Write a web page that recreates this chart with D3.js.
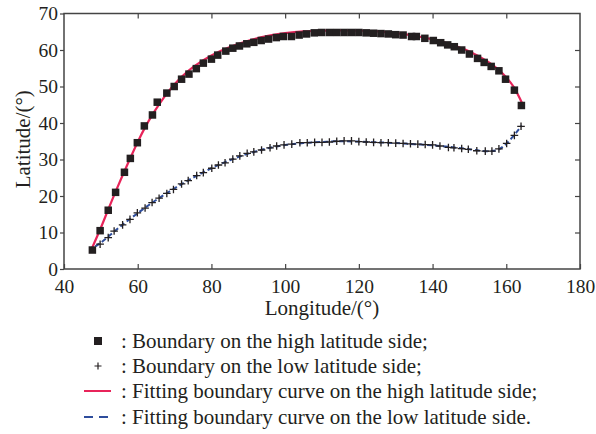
<!DOCTYPE html>
<html>
<head>
<meta charset="utf-8">
<script src="https://cdn.jsdelivr.net/npm/d3@7"></script>
<style>
  body { margin: 0; background: #fff; }
  text { font-family: "Liberation Serif", "Times New Roman", Times, "DejaVu Serif", serif; fill: #231f20; }
</style>
</head>
<body>
<div class="chart-container"></div>
<script>
// Boundary on the high latitude side (squares)
const highLon = [47.7, 49.8, 52.0, 54.0, 56.4, 58.0, 59.9, 61.8, 64.0, 65.3, 67.9, 69.9, 71.9, 73.9, 75.9, 77.8,
    80.0, 81.7, 83.9, 85.8, 87.6, 89.6, 91.5, 93.5, 95.5, 97.6, 99.5, 101.7, 103.8, 105.8, 107.9, 109.9,
    112.0, 114.0, 116.0, 118.0, 120.0, 122.0, 124.0, 126.0, 128.0, 130.0, 132.0, 134.3, 135.6, 137.9,
    140.2, 142.2, 144.1, 145.9, 147.9, 150.0, 152.2, 154.0, 155.9, 158.0, 159.8, 162.2, 164.1];
const highLat = [5.2, 10.5, 16.1, 21.0, 26.5, 30.3, 34.6, 39.2, 42.2, 45.7, 48.2, 50.0, 52.0, 53.4, 54.9, 56.4,
    57.5, 58.6, 59.7, 60.5, 61.1, 61.7, 62.1, 62.6, 63.0, 63.4, 63.7, 63.7, 64.1, 64.4, 64.7, 64.8,
    64.8, 64.8, 64.8, 64.8, 64.8, 64.7, 64.6, 64.5, 64.4, 64.2, 64.1, 63.7, 63.7, 63.2,
    62.6, 62.0, 61.4, 60.9, 60.0, 58.9, 57.7, 56.6, 55.5, 54.3, 52.0, 49.0, 44.8];

// Boundary on the low latitude side (crosses)
const lowLon = [49.8, 52.0, 53.6, 55.9, 57.9, 59.9, 62.0, 63.9, 65.8, 67.9, 69.7, 71.9, 73.7, 76.0, 77.8,
    80.1, 81.9, 83.7, 85.8, 87.7, 89.7, 91.5, 93.6, 95.9, 97.7, 99.7, 101.8, 104.0, 106.0, 108.0, 110.0,
    112.0, 114.0, 116.0, 118.0, 120.0, 122.0, 124.0, 126.0, 128.0, 130.0, 132.0, 134.0, 136.0, 138.0,
    140.0, 142.0, 144.3, 145.8, 147.9, 149.7, 152.0, 154.3, 156.1, 158.0, 160.1, 162.2, 164.0];
const lowLat = [6.8, 8.6, 10.4, 12.1, 13.6, 15.4, 16.7, 18.2, 19.4, 20.7, 21.8, 23.3, 24.2, 25.6, 26.4,
    27.6, 28.5, 29.1, 30.1, 31.0, 31.7, 32.1, 32.6, 33.2, 33.7, 34.0, 34.2, 34.6, 34.6, 34.7, 34.7,
    34.8, 35.0, 35.1, 35.1, 34.9, 34.8, 34.7, 34.6, 34.6, 34.5, 34.4, 34.3, 34.2, 34.1,
    34.0, 33.7, 33.3, 33.2, 33.0, 32.8, 32.4, 32.3, 32.3, 32.9, 34.4, 36.6, 39.1];

// Fitting curves
const highFitLon = [47.5, 50, 52, 54, 56, 58, 60, 62, 64, 66, 68, 70, 72, 75, 80, 85, 90, 95, 100, 105,
    110, 115, 120, 125, 130, 135, 140, 145, 150, 155, 158, 160, 162, 164.5];
const highFitLat = [5.5, 11.3, 16.3, 21.2, 25.9, 30.4, 34.8, 38.8, 42.3, 45.4, 48.2, 50.6, 52.7, 55.3,
    58.5, 60.8, 62.5, 63.8, 64.6, 65.1, 65.3, 65.4, 65.3, 65.1, 64.6, 63.9, 62.9, 61.5, 59.6, 56.8,
    54.5, 52.5, 49.9, 45.0];
const lowFitLon = [48.5, 50, 55, 60, 65, 70, 75, 80, 85, 90, 95, 100, 105, 110, 115, 120, 125, 130, 135,
    140, 145, 150, 153, 156, 158, 160, 162, 164.2];
const lowFitLat = [6.2, 7.2, 11.4, 15.3, 18.9, 22.1, 25.0, 27.6, 29.8, 31.6, 33.0, 34.0, 34.5, 34.8, 35.0,
    34.9, 34.7, 34.5, 34.2, 33.9, 33.4, 32.8, 32.4, 32.3, 32.8, 34.3, 36.5, 39.3];

const xTicks = [40, 60, 80, 100, 120, 140, 160, 180];
const yTicks = [0, 10, 20, 30, 40, 50, 60, 70];

const legendLabels = [
    ": Boundary on the high latitude side;",
    ": Boundary on the low latitude side;",
    ": Fitting boundary curve on the high latitude side;",
    ": Fitting boundary curve on the low latitude side."
];

function draw() {
    const width = 596;
    const height = 434;
    const marginTop = 13.5;
    const marginLeft = 64;
    const plotRight = 580;
    const plotBottom = 269;
    const serif = '"Liberation Serif", "Times New Roman", Times, "DejaVu Serif", serif';

    const red = '#e8245a';
    const blue = '#2e4d9c';
    const ink = '#231f20';
    const axisColor = '#444';

    const x = d3.scaleLinear().domain([40, 180]).range([marginLeft, plotRight]);
    const y = d3.scaleLinear().domain([0, 70]).range([plotBottom, marginTop]);

    const svg = d3.select('.chart-container').append('svg')
        .attr('width', width)
        .attr('height', height)
        .style('font-family', serif);

    // Frame
    svg.append('rect')
        .attr('x', marginLeft)
        .attr('y', marginTop)
        .attr('width', plotRight - marginLeft)
        .attr('height', plotBottom - marginTop)
        .attr('fill', 'none')
        .attr('stroke', axisColor)
        .attr('stroke-width', 1.5);

    const styleAxis = g => {
        g.attr('font-family', serif);
        g.select('.domain').remove();
        g.selectAll('.tick line').attr('stroke', axisColor).attr('stroke-width', 1.2);
        g.selectAll('.tick text')
            .style('font-family', serif)
            .style('font-size', '19.5px')
            .attr('fill', ink);
    };

    // Bottom and top ticks point inward, left ticks outward, right ticks inward
    svg.append('g')
        .attr('transform', `translate(0,${plotBottom})`)
        .call(d3.axisBottom(x).tickValues(xTicks).tickSize(-5).tickPadding(10).tickFormat(d3.format('d')))
        .call(styleAxis);

    svg.append('g')
        .attr('transform', `translate(${marginLeft},0)`)
        .call(d3.axisLeft(y).tickValues(yTicks).tickSize(4).tickPadding(2).tickFormat(d3.format('d')))
        .call(styleAxis);

    svg.append('g')
        .attr('transform', `translate(0,${marginTop})`)
        .call(d3.axisTop(x).tickValues(xTicks.slice(1, -1)).tickSize(-5).tickFormat(''))
        .call(styleAxis);

    svg.append('g')
        .attr('transform', `translate(${plotRight},0)`)
        .call(d3.axisRight(y).tickValues(yTicks.slice(1, -1)).tickSize(-5).tickFormat(''))
        .call(styleAxis);

    // Axis titles
    svg.append('text')
        .attr('x', (marginLeft + plotRight) / 2)
        .attr('y', 315)
        .attr('text-anchor', 'middle')
        .style('font-size', '21px')
        .text('Longitude/(°)');

    svg.append('text')
        .attr('transform', `translate(30,${(marginTop + plotBottom) / 2 - 2}) rotate(-90)`)
        .attr('text-anchor', 'middle')
        .style('font-size', '21px')
        .text('Latitude/(°)');

    const line = d3.line()
        .x(d => x(d[0]))
        .y(d => y(d[1]))
        .curve(d3.curveCatmullRom);

    // Fitting curves
    svg.append('path')
        .datum(highFitLon.map((v, i) => [v, highFitLat[i]]))
        .attr('d', line)
        .attr('fill', 'none')
        .attr('stroke', red)
        .attr('stroke-width', 2.2);

    svg.append('path')
        .datum(lowFitLon.map((v, i) => [v, lowFitLat[i]]))
        .attr('d', line)
        .attr('fill', 'none')
        .attr('stroke', blue)
        .attr('stroke-width', 2)
        .attr('stroke-dasharray', '5,3');

    // Squares
    const sq = 7.5;
    svg.append('g').selectAll('rect')
        .data(highLon.map((v, i) => [v, highLat[i]]))
        .enter()
        .append('rect')
        .attr('x', d => x(d[0]) - sq / 2)
        .attr('y', d => y(d[1]) - sq / 2)
        .attr('width', sq)
        .attr('height', sq)
        .attr('fill', ink);

    // Crosses
    const cr = 3.8;
    svg.append('g').selectAll('path')
        .data(lowLon.map((v, i) => [v, lowLat[i]]))
        .enter()
        .append('path')
        .attr('d', d => {
            const cx = x(d[0]), cy = y(d[1]);
            return `M${cx - cr},${cy}H${cx + cr}M${cx},${cy - cr}V${cy + cr}`;
        })
        .attr('stroke', ink)
        .attr('stroke-width', 1.3);

    // Legend
    const rowY = [341, 366, 391, 417];
    const legend = svg.append('g');

    legend.append('rect')
        .attr('x', 94)
        .attr('y', rowY[0] - 4)
        .attr('width', 8)
        .attr('height', 8)
        .attr('fill', ink);

    legend.append('path')
        .attr('d', `M${98 - 3.5},${rowY[1]}H${98 + 3.5}M98,${rowY[1] - 3.5}V${rowY[1] + 3.5}`)
        .attr('stroke', ink)
        .attr('stroke-width', 1.2);

    legend.append('line')
        .attr('x1', 84).attr('x2', 111)
        .attr('y1', rowY[2]).attr('y2', rowY[2])
        .attr('stroke', red)
        .attr('stroke-width', 2);

    legend.append('line')
        .attr('x1', 84).attr('x2', 111)
        .attr('y1', rowY[3]).attr('y2', rowY[3])
        .attr('stroke', blue)
        .attr('stroke-width', 2)
        .attr('stroke-dasharray', '9,6');

    legend.selectAll('text')
        .data(legendLabels)
        .enter()
        .append('text')
        .attr('x', 121)
        .attr('y', (d, i) => rowY[i] + 6.5)
        .style('font-size', '21px')
        .text(d => d);
}

draw();
</script>
</body>
</html>
